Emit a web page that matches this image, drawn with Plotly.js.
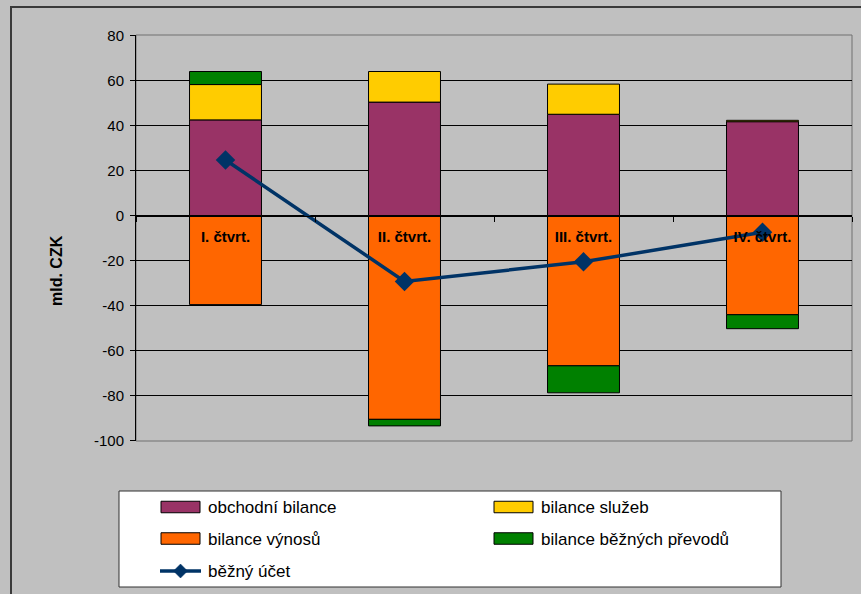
<!DOCTYPE html>
<html>
<head>
<meta charset="utf-8">
<script src="https://cdn.plot.ly/plotly-3.0.1.min.js"></script>
<style>
  html, body { margin: 0; padding: 0; background: #C0C0C0; }
  #chart { width: 861px; height: 594px; }
</style>
</head>
<body>
<div id="chart"></div>
<script>
// Quarterly components of the current account, bn CZK
const quarters = ['I. čtvrt.', 'II. čtvrt.', 'III. čtvrt.', 'IV. čtvrt.'];
const obchodniBilance = [42.5, 50.4, 45.0, 41.7];
const bilanceSluzeb = [15.7, 13.6, 13.4, 0.6];
const bilanceVynosu = [-39.6, -90.6, -66.8, -44.1];
const bilanceBeznychPrevodu = [5.8, -2.9, -12.0, -6.2];
const beznyUcet = [24.7, -29.3, -20.6, -7.4];

const seriesNames = ['obchodní bilance', 'bilance služeb', 'bilance výnosů', 'bilance běžných převodů', 'běžný účet'];
const seriesColors = ['#993366', '#FFCC00', '#FF6600', '#008000', '#003366'];
const yTickValues = [-100, -80, -60, -40, -20, 0, 20, 40, 60, 80];
const yTickLabels = ['-100', '-80', '-60', '-40', '-20', '0', '20', '40', '60', '80'];
const yAxisTitle = 'mld. CZK';

const FONT = '"Liberation Sans", Arial, sans-serif';
const W = 861, H = 594;
const yMin = yTickValues[0], yMax = yTickValues[yTickValues.length - 1];

// 2.25 px per unit keeps every 20-unit gridline on a whole pixel row;
// the extra half pixel on each end centres the 1px lines on pixel rows.
const pxPerUnit = 2.25;
const halfPx = 0.5 / pxPerUnit;
const PH = Math.round((yMax - yMin) * pxPerUnit) + 1;
const M = { l: 136, r: 9, t: 35, b: H - 35 - PH };
const PW = W - M.l - M.r;
const yRange = [yMin - halfPx, yMax + halfPx];

// pixel -> paper helpers for frame and legend decorations
const px = x => (x - M.l) / PW;
const py = y => 1 - (y - M.t) / PH;

const barSeries = [obchodniBilance, bilanceSluzeb, bilanceVynosu, bilanceBeznychPrevodu];
const traces = barSeries.map((vals, i) => ({
  type: 'bar',
  x: quarters,
  y: vals,
  name: seriesNames[i],
  marker: { color: seriesColors[i], line: { color: '#000', width: 1 } },
  hoverinfo: 'skip'
}));
traces.push({
  type: 'scatter',
  mode: 'lines+markers',
  x: quarters,
  y: beznyUcet,
  name: seriesNames[4],
  line: { color: seriesColors[4], width: 3.5 },
  marker: { symbol: 'diamond', size: 15, color: seriesColors[4] },
  hoverinfo: 'skip'
});

const shapes = [];
const annotations = [];

// outer chart frame
shapes.push({
  type: 'rect', xref: 'paper', yref: 'paper',
  x0: px(11), x1: px(W + 20), y0: py(7), y1: py(H + 20),
  line: { color: '#3a3a3a', width: 2 }, layer: 'below'
});
// plot area frame
shapes.push({
  type: 'rect', xref: 'paper', yref: 'paper',
  x0: 0, x1: 1, y0: 0, y1: 1,
  line: { color: '#707070', width: 1 }, layer: 'below'
});

// legend box below the plot
const legendBox = { x0: 119, x1: 781, y0: 491, y1: 587 };
shapes.push({
  type: 'rect', xref: 'paper', yref: 'paper',
  x0: px(legendBox.x0), x1: px(legendBox.x1), y0: py(legendBox.y0), y1: py(legendBox.y1),
  fillcolor: '#FFFFFF', line: { color: '#303030', width: 1 }
});
const legendCols = [161, 494];
const legendRows = [507, 538.5, 571];
const legendSlots = [[0, 0], [1, 0], [0, 1], [1, 1], [0, 2]];
const swW = 39, swH = 11.5, textOff = 45;
legendSlots.forEach(([c, r], i) => {
  const sx = legendCols[c], sy = legendRows[r];
  if (i < 4) {
    shapes.push({
      type: 'rect', xref: 'paper', yref: 'paper',
      x0: px(sx), x1: px(sx + swW), y0: py(sy - swH / 2), y1: py(sy + swH / 2),
      fillcolor: seriesColors[i], line: { color: '#000', width: 1 }
    });
  } else {
    shapes.push({
      type: 'line', xref: 'paper', yref: 'paper',
      x0: px(sx - 1), x1: px(sx + swW + 1), y0: py(sy), y1: py(sy),
      line: { color: seriesColors[i], width: 3.5 }
    });
    const cx = sx + swW / 2, d = 7;
    shapes.push({
      type: 'path', xref: 'paper', yref: 'paper',
      path: `M ${px(cx - d)} ${py(sy)} L ${px(cx)} ${py(sy - d)} L ${px(cx + d)} ${py(sy)} L ${px(cx)} ${py(sy + d)} Z`,
      fillcolor: seriesColors[i], line: { color: seriesColors[i], width: 0.5 }
    });
  }
  annotations.push({
    xref: 'paper', yref: 'paper',
    x: px(sx + textOff), y: py(sy + 0.5),
    xanchor: 'left', yanchor: 'middle',
    text: seriesNames[i], showarrow: false,
    font: { family: FONT, size: 17, color: '#000' }
  });
});

// y-axis title
annotations.push({
  xref: 'paper', yref: 'paper',
  x: px(56), y: py(271),
  xanchor: 'center', yanchor: 'middle',
  textangle: -90,
  text: yAxisTitle, showarrow: false,
  font: { family: FONT, size: 16, color: '#000', weight: 'bold' }
});

const layout = {
  width: W, height: H,
  margin: M,
  paper_bgcolor: '#C0C0C0',
  plot_bgcolor: '#C0C0C0',
  barmode: 'relative',
  bargap: 0.598,
  showlegend: false,
  hovermode: false,
  font: { family: FONT, color: '#000' },
  xaxis: {
    type: 'category',
    anchor: 'free',
    position: (0 - yRange[0]) / (yRange[1] - yRange[0]),
    showline: true, linecolor: '#000', linewidth: 1,
    ticks: 'outside', tickson: 'boundaries', ticklen: 5, tickcolor: '#000',
    showgrid: false, zeroline: false,
    tickfont: { family: FONT, size: 15, color: '#000', weight: 'bold' },
    ticklabelstandoff: 7,
    fixedrange: true
  },
  yaxis: {
    range: yRange,
    tickmode: 'array',
    tickvals: yTickValues,
    ticktext: yTickLabels,
    showline: true, linecolor: '#000', linewidth: 1,
    ticks: 'outside', ticklen: 5, tickcolor: '#000',
    ticklabelstandoff: 3,
    showgrid: true, gridcolor: '#000000', gridwidth: 1,
    zeroline: false,
    tickfont: { family: FONT, size: 15, color: '#000' },
    fixedrange: true
  },
  shapes: shapes,
  annotations: annotations
};

Plotly.newPlot('chart', traces, layout, { displayModeBar: false });
</script>
</body>
</html>
